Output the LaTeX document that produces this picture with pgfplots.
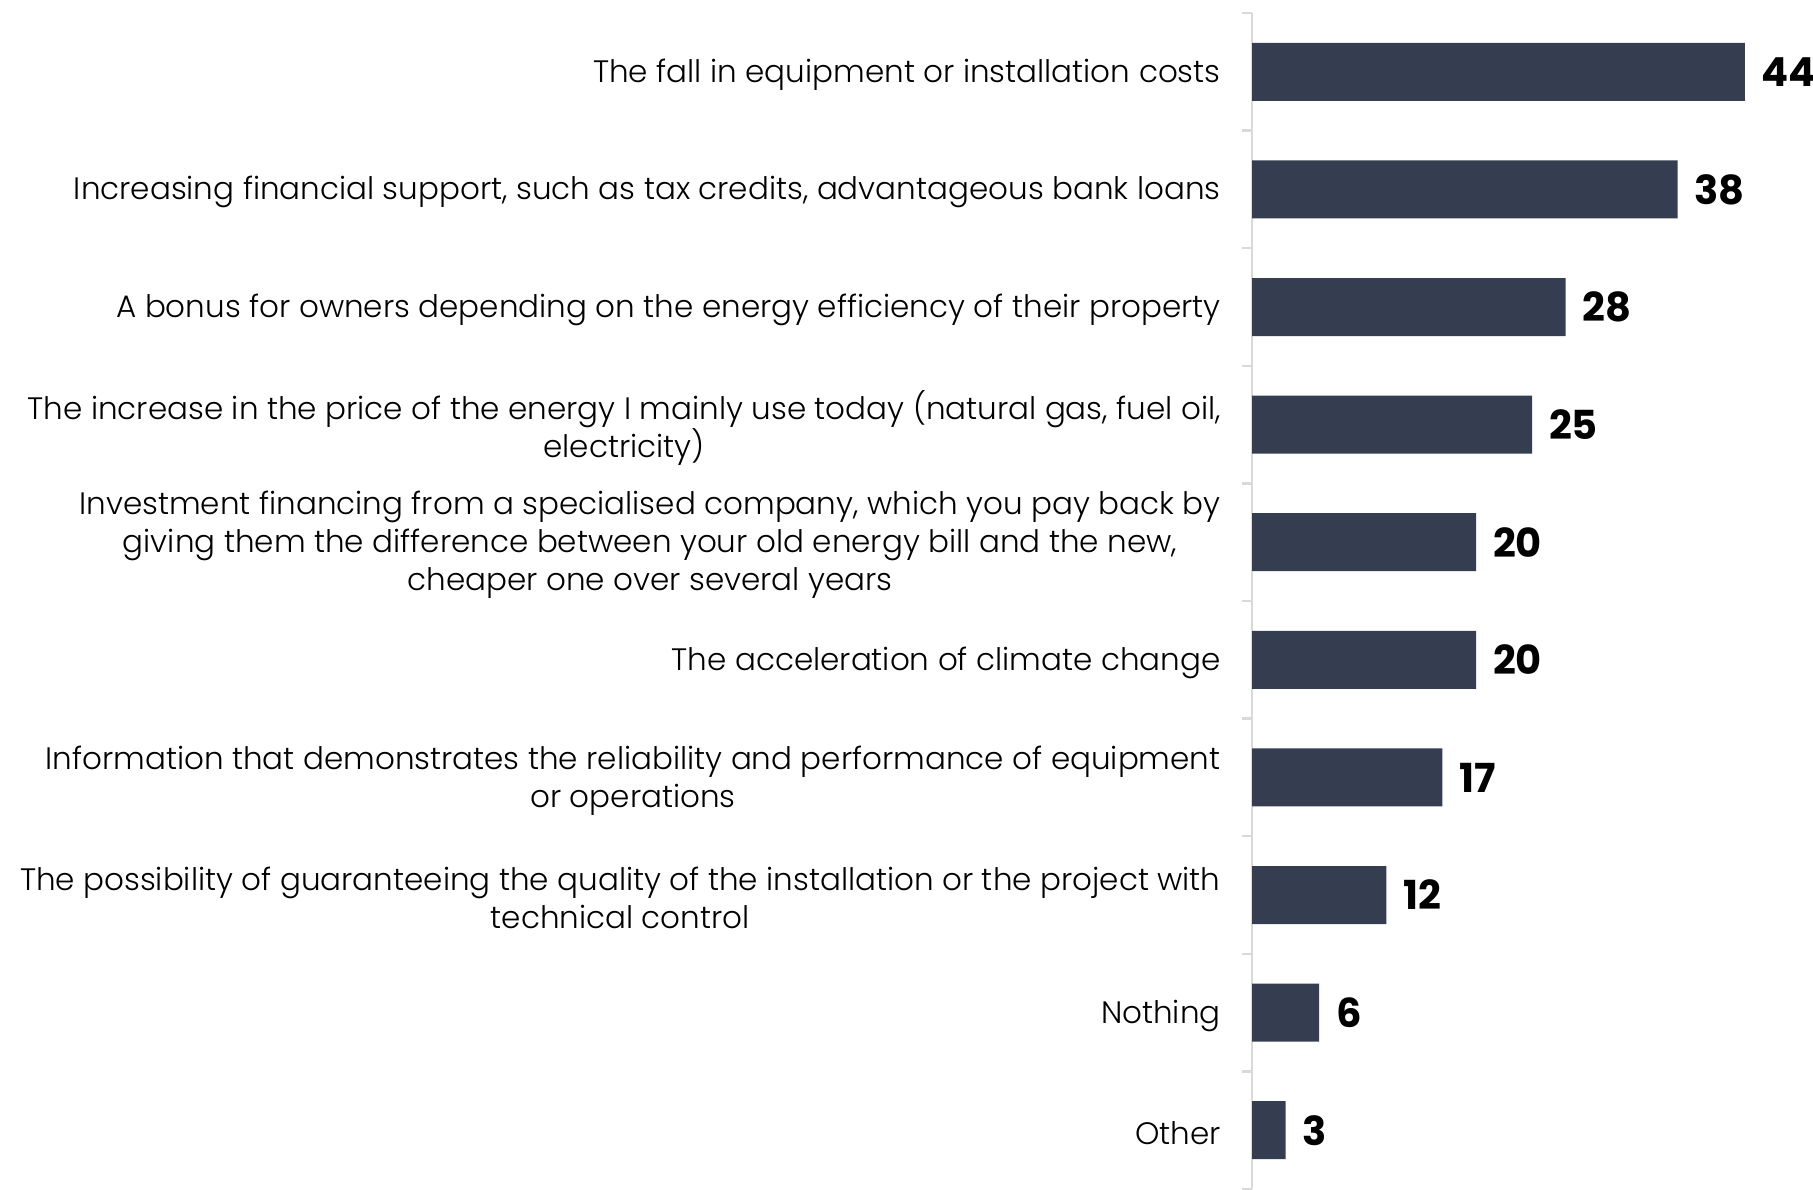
\documentclass[border=0pt]{standalone}
\usepackage{fontspec}
\setmainfont{Poppins}[UprightFont={* Light}, BoldFont={* Bold}]
\usepackage{pgfplots}
\pgfplotsset{compat=1.18}
\definecolor{barcol}{RGB}{52,62,80}
\definecolor{axcol}{RGB}{217,217,217}
\begin{document}
\begin{tikzpicture}
\useasboundingbox (0,0) rectangle (906.5pt,594.5pt);
\begin{axis}[
  at={(626pt,0pt)}, anchor=south west,
  scale only axis,
  width=280pt, height=588pt,
  xmin=0, xmax=50,
  ymin=-0.5, ymax=9.5,
  y dir=reverse,
  axis x line=none,
  axis y line=left,
  axis line style={-, draw=axcol, line width=1.2pt},
  xbar, bar width=29pt,
  ytick={0,...,9},
  yticklabels={
    {The fall in equipment or installation costs},
    {Increasing financial support, such as tax credits, advantageous bank loans},
    {A bonus for owners depending on the energy efficiency of their property},
    {The increase in the price of the energy I mainly use today (natural gas, fuel oil,\\electricity)},
    {Investment financing from a specialised company, which you pay back by\\giving them the difference between your old energy bill and the new,\\cheaper one over several years},
    {The acceleration of climate change},
    {Information that demonstrates the reliability and performance of equipment\\or operations},
    {The possibility of guaranteeing the quality of the installation or the project with\\technical control},
    {Nothing},
    {Other}},
  major tick length=0pt,
  minor ytick={-0.5,0.5,...,9.5},
  minor tick length=5pt,
  tick align=outside,
  minor tick style={draw=axcol, line width=1.2pt},
  yticklabel style={font=\fontsize{15.5}{19}\selectfont, align=center, inner sep=0pt, xshift=-15.5pt, yshift=-1.5pt, text=black},
  /pgf/number format/assume math mode=true,
  nodes near coords,
  nodes near coords align=horizontal,
  every node near coord/.append style={font=\bfseries\fontsize{20}{20}\selectfont, text=black, anchor=west, xshift=5pt},
  clip=false,
]
\addplot[fill=barcol, draw=none] coordinates {
  (44,0) (38,1) (28,2) (25,3) (20,4) (20,5) (17,6) (12,7) (6,8) (3,9)
};
\end{axis}
\end{tikzpicture}
\end{document}
